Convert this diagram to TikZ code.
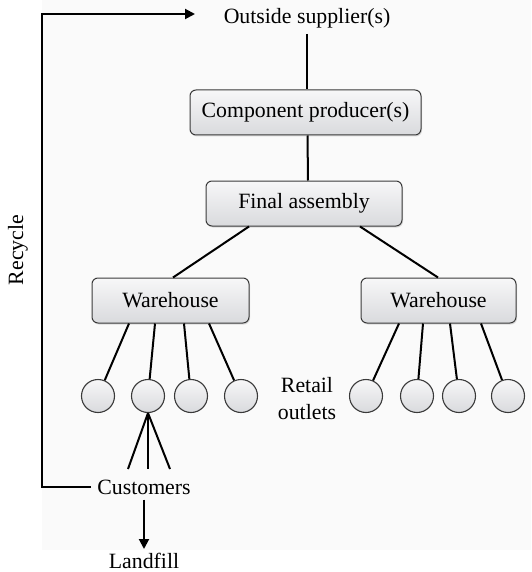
\documentclass[tikz,border=0pt]{standalone}
\usepackage{fontspec}
\setmainfont{Liberation Serif}
\usetikzlibrary{arrows.meta,shadows}
\definecolor{bgc}{HTML}{FAFAFA}
\definecolor{boxtop}{HTML}{F7F7F8}
\definecolor{boxbot}{HTML}{D9DADD}
\definecolor{edgec}{HTML}{3A3A3A}
\tikzset{
  procbox/.style={draw=edgec, line width=1pt, rounded corners=6pt,
    top color=boxtop, bottom color=boxbot, minimum height=45pt,
    inner sep=0pt, font=\fontsize{21.8}{26}\selectfont,
    drop shadow={shadow xshift=1pt, shadow yshift=-1.5pt, opacity=0.25}},
  outlet/.style={circle, draw=edgec, line width=1.1pt, minimum size=33pt,
    inner sep=0pt, top color=boxtop, bottom color=boxbot},
  lbl/.style={font=\fontsize{21.8}{27}\selectfont, inner sep=0pt, align=center},
  conn/.style={line width=2pt, black},
  flow/.style={line width=2pt, black, -{Triangle[length=10pt,width=10pt]}},
}
\begin{document}
\begin{tikzpicture}[x=1pt, y=-1pt]
\useasboundingbox (0,0) rectangle (531,572);
\fill[bgc] (42,0) rectangle (531,550);

\node[lbl] (sup) at (307,18) {Outside supplier(s)};
\node[procbox, minimum width=231pt] (comp) at (305.5,112.5) {Component producer(s)};
\node[procbox, minimum width=196pt] (fa) at (304,203.5) {Final assembly};
\node[procbox, minimum width=157pt] (wl) at (170.5,300.5) {Warehouse};
\node[procbox, minimum width=155pt] (wr) at (438.5,300.5) {Warehouse};

\node[outlet] (c1) at (98,396) {};
\node[outlet] (c2) at (148,396) {};
\node[outlet] (c3) at (191,396) {};
\node[outlet] (c4) at (241,396) {};
\node[outlet] (c5) at (366,396) {};
\node[outlet] (c6) at (417,396) {};
\node[outlet] (c7) at (459,396) {};
\node[outlet] (c8) at (508,396) {};

\node[lbl] (retail) at (307,399) {Retail\\outlets};
\node[lbl] (cust) at (144,487) {Customers};
\node[lbl] (land) at (144,561) {Landfill};
\node[lbl, rotate=90] (rec) at (18,250) {Recycle};

\coordinate (sbot) at (307,34);
\coordinate (rtip) at (195,14);
\coordinate (lc1) at (42,487);
\coordinate (lc2) at (42,14);
\coordinate (k1) at (128,469);
\coordinate (k2) at (148,469);
\coordinate (k3) at (170,469);
\coordinate (ltip) at (144,549);

\draw[conn] (sbot) -- (comp.north -| sbot);
\draw[conn] ([xshift=2pt]comp.south) -- ([xshift=4pt]fa.north);
\draw[conn] ([xshift=-55pt]fa.south) -- ([xshift=2.5pt]wl.north);
\draw[conn] ([xshift=56pt]fa.south) -- ([xshift=-0.5pt]wr.north);

\draw[conn] ([xshift=-41.5pt]wl.south) -- (c1);
\draw[conn] ([xshift=-15.5pt]wl.south) -- (c2);
\draw[conn] ([xshift=13.5pt]wl.south) -- (c3);
\draw[conn] ([xshift=38.5pt]wl.south) -- (c4);
\draw[conn] ([xshift=-39.5pt]wr.south) -- (c5);
\draw[conn] ([xshift=-15.5pt]wr.south) -- (c6);
\draw[conn] ([xshift=11.5pt]wr.south) -- (c7);
\draw[conn] ([xshift=42.5pt]wr.south) -- (c8);

\draw[conn] (c2.south) -- (k1);
\draw[conn] (c2.south) -- (k2);
\draw[conn] (c2.south) -- (k3);

\draw[flow] ([xshift=-6pt]cust.west) -- (lc1) -- (lc2) -- (rtip);
\draw[flow] ([yshift=-5pt]cust.south) -- (ltip);
\end{tikzpicture}
\end{document}
